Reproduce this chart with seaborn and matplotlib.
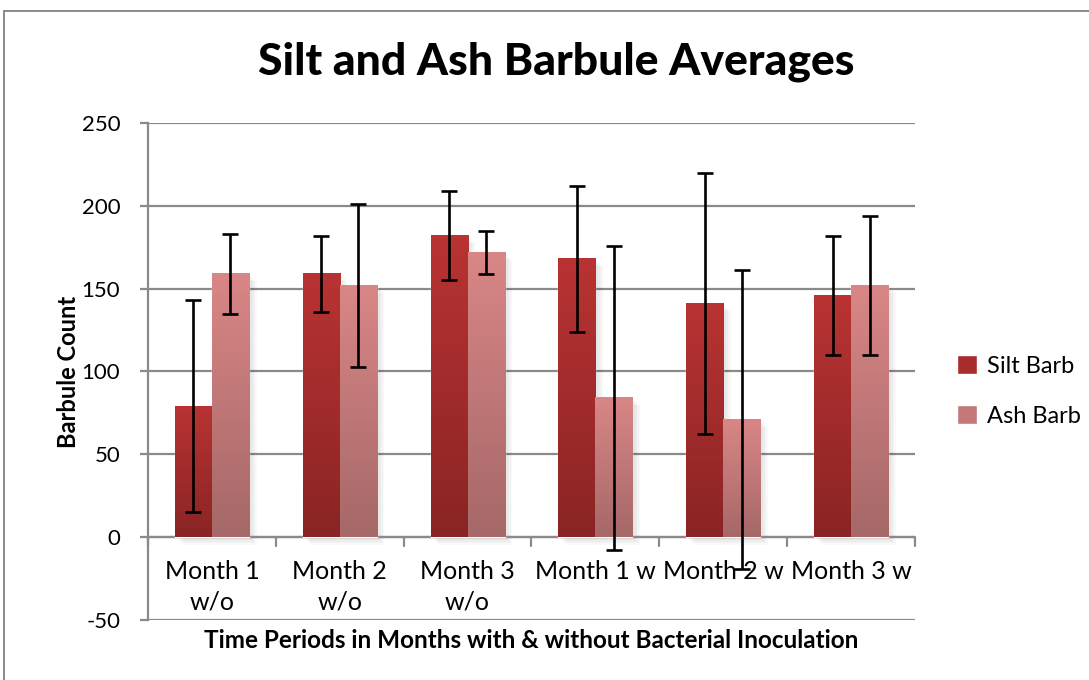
import numpy as np
import pandas as pd
import matplotlib
matplotlib.use("Agg")
import matplotlib.pyplot as plt
import seaborn as sns
from matplotlib.patches import Rectangle, Patch
from matplotlib.colors import LinearSegmentedColormap

# Datos
categorias = ["Month 1\nw/o", "Month 2\nw/o", "Month 3\nw/o", "Month 1 w", "Month 2 w", "Month 3 w"]
series = ["Silt Barb", "Ash Barb"]
silt = [79, 159, 182, 168, 141, 146]
ash = [159, 152, 172, 84, 71, 152]
silt_err = [64, 23, 27, 44, 79, 36]
ash_err = [24, 49, 13, 92, 90, 42]
yticks = [-50, 0, 50, 100, 150, 200, 250]

df = pd.DataFrame({
    "cat": categorias * 2,
    "serie": [series[0]] * 6 + [series[1]] * 6,
    "valor": silt + ash,
})

sns.set_style("white")
plt.rcParams["font.family"] = ["Lato", "DejaVu Sans"]
plt.rcParams["text.color"] = "black"
plt.rcParams["axes.labelcolor"] = "black"
plt.rcParams["ytick.color"] = "black"

fig = plt.figure(figsize=(10.89, 6.8), dpi=100)
W, H = 1089, 680
ax = fig.add_axes([148 / W, 1 - 620 / H, (915 - 148) / W, (620 - 123) / H])

colores = {"Silt Barb": "#a82c2c", "Ash Barb": "#c47878"}
sns.barplot(data=df, x="cat", y="valor", hue="serie", order=categorias,
            hue_order=series, palette=colores, width=0.58, gap=0,
            ax=ax, legend=False, zorder=3)

# degradados tipo Excel
grad = {
    0: LinearSegmentedColormap.from_list("silt", ["#8a2424", "#b93333"]),
    1: LinearSegmentedColormap.from_list("ash", ["#a66868", "#d98686"]),
}
errores = [silt_err, ash_err]
vals = [silt, ash]
barras = [list(c) for c in ax.containers[:2]]
for k, cont in enumerate(barras):
    for j, bar in enumerate(cont):
        x0, w, h = bar.get_x(), bar.get_width(), bar.get_height()
        # sombra
        for s in range(1, 6):
            ax.add_patch(Rectangle((x0 + 0.012 * s, -0.9 * s), w, h,
                                   facecolor="black", alpha=0.025,
                                   edgecolor="none", zorder=2))
        img = np.linspace(0, 1, 100).reshape(-1, 1)
        ax.imshow(img, cmap=grad[k], origin="lower", aspect="auto",
                  extent=[x0, x0 + w, 0, h], zorder=3.5)
        bar.set_facecolor("none")
        ax.errorbar(x0 + w / 2, vals[k][j], yerr=errores[k][j], fmt="none",
                    ecolor="black", elinewidth=1.9, capsize=6, capthick=1.9,
                    zorder=5)

ax.set_xlim(-0.5, 5.5)
ax.set_ylim(-50, 250)
ax.set_yticks(yticks)
ax.set_yticklabels([str(v) for v in yticks], fontsize=16)
ax.yaxis.grid(True, color="#8a8a8a", linewidth=1.6, zorder=1)
ax.set_axisbelow(True)
ax.tick_params(axis="y", direction="out", length=6, width=1.6,
               color="#8a8a8a", labelcolor="black", pad=14, left=True)
ax.set_xticks([])
ax.set_xlabel("")
ax.set_ylabel("Barbule Count", fontsize=17, fontweight="bold", labelpad=1)
for lado in ["top", "right", "bottom"]:
    ax.spines[lado].set_visible(False)
ax.spines["left"].set_color("#8a8a8a")
ax.spines["left"].set_linewidth(1.6)

# eje de categorías en cero
ax.axhline(0, color="#8a8a8a", linewidth=1.6, zorder=2)
for b in np.arange(-0.5, 6, 1):
    ax.plot([b, b], [0, -5.5], color="#8a8a8a", linewidth=1.6, zorder=2,
            clip_on=False)
for i, c in enumerate(categorias):
    ax.text(i, -14, c, ha="center", va="top", fontsize=18, linespacing=1.35)

fig.text(531 / W, 1 - 640 / H, "Time Periods in Months with & without Bacterial Inoculation",
         ha="center", va="center", fontsize=17.5, fontweight="bold")
fig.text(556 / W, 1 - 62 / H, "Silt and Ash Barbule Averages",
         ha="center", va="center", fontsize=32, fontweight="black")

# leyenda
handles = [Patch(facecolor="#a82c2c"), Patch(facecolor="#c47878")]
fig.legend(handles, series, loc="center left", bbox_to_anchor=(936 / W, 1 - 391 / H),
           frameon=False, fontsize=17, handlelength=0.85, handleheight=0.85,
           handletextpad=0.4, labelspacing=1.2)

# borde del área del gráfico
fig.add_artist(Rectangle((4 / W, -0.1), 1.2, 1 - 11 / H + 0.1,
                         transform=fig.transFigure, fill=False,
                         edgecolor="#8a8a8a", linewidth=1.4))

fig.savefig("out.png", dpi=100)
